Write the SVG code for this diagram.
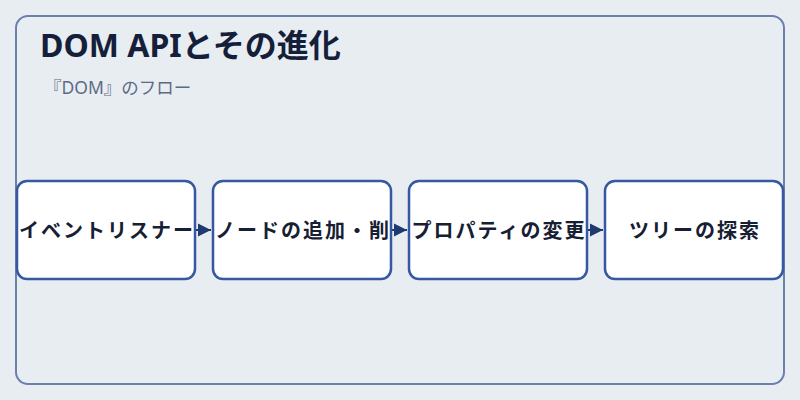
<svg xmlns="http://www.w3.org/2000/svg" width="800" height="400" viewBox="0 0 800 400">
<defs>
<style>
.frame{fill:#e8edf2;stroke:#6a80ad;stroke-width:2}
.node rect{fill:#ffffff;stroke:#3558a0;stroke-width:2.5}
.node text{font-family:"Noto Sans CJK JP","Noto Sans",sans-serif;font-size:20px;font-weight:700;fill:#172033;text-anchor:middle;letter-spacing:2px}
.title{font-family:"Noto Sans","Noto Sans CJK JP",sans-serif;font-size:32px;font-weight:700;fill:#14203a}
.sub{font-family:"Noto Sans","Noto Sans CJK JP",sans-serif;font-size:17.5px;fill:#5d6b85}
.conn{stroke:#1f3a70;stroke-width:2;fill:none}
</style>
<marker id="arr" viewBox="0 0 10 10" refX="10" refY="5" markerWidth="13" markerHeight="15" markerUnits="userSpaceOnUse" orient="auto">
<path d="M0,0 L10,5 L0,10 Z" fill="#1f3a70"/>
</marker>
</defs>
<rect x="0" y="0" width="800" height="400" fill="#e8edf2"/>
<rect class="frame" x="16" y="16" width="768" height="368" rx="12"/>
<text class="title" x="40" y="57">DOM APIとその進化</text>
<text class="sub" x="44" y="94">『DOM』のフロー</text>
<g id="connectors">
<line class="conn" x1="195" y1="230" x2="211" y2="230" marker-end="url(#arr)"/>
<line class="conn" x1="391" y1="230" x2="407" y2="230" marker-end="url(#arr)"/>
<line class="conn" x1="587" y1="230" x2="603" y2="230" marker-end="url(#arr)"/>
</g>
<g id="node1" class="node">
<rect x="17" y="181" width="178" height="98" rx="10"/>
<text x="107" y="237.5">イベントリスナー</text>
</g>
<g id="node2" class="node">
<rect x="213" y="181" width="178" height="98" rx="10"/>
<text x="303" y="237.5">ノードの追加・削</text>
</g>
<g id="node3" class="node">
<rect x="409" y="181" width="178" height="98" rx="10"/>
<text x="499" y="237.5">プロパティの変更</text>
</g>
<g id="node4" class="node">
<rect x="605" y="181" width="178" height="98" rx="10"/>
<text x="695" y="237.5">ツリーの探索</text>
</g>
</svg>
